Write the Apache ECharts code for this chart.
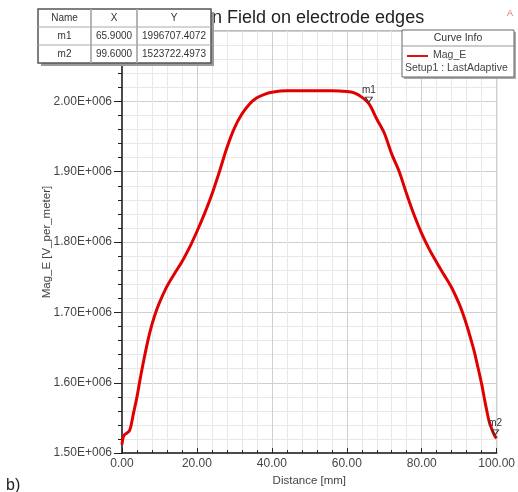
<!DOCTYPE html>
<html>
<head>
<meta charset="utf-8">
<script src="https://cdn.jsdelivr.net/npm/echarts@6/dist/echarts.min.js"></script>
<style>
  html, body { margin: 0; padding: 0; background: #fff; }
  #main { width: 518px; height: 492px; }
</style>
</head>
<body>
<div id="main"></div>
<script>
// distance along the edge [mm]
const distance = [0, 0.5, 2, 3, 4, 5, 6, 7, 8, 9, 10, 12, 14, 16, 18, 20, 22, 24, 26, 28,
  30, 32, 34, 36, 38, 40, 44, 48, 52, 56, 60, 62, 64, 65.9, 68, 70, 72, 74, 76, 78,
  80, 82, 84, 86, 88, 90, 91, 92, 93, 94, 95, 96, 97, 98, 99, 99.6, 100];
// Mag_E [V_per_meter]
const magE = [1512000, 1525000, 1532000, 1555000, 1580000, 1610000, 1637000, 1662000, 1683000, 1700000,
  1714000, 1737000, 1755000, 1772000, 1792000, 1815000, 1840000, 1868000, 1900000, 1934000,
  1962000, 1982000, 1996000, 2005000, 2010000, 2013000, 2015000, 2015000, 2015000, 2015000,
  2014000, 2012000, 2006000, 1996707, 1975000, 1955000, 1925000, 1900000, 1868000, 1838000,
  1812000, 1790000, 1771000, 1753000, 1735000, 1712000, 1698000, 1682000, 1664000, 1645000,
  1622000, 1598000, 1570000, 1545000, 1530000, 1523722, 1521000];

const markerNames = ['m1', 'm2'];
const markerX = ['65.9000', '99.6000'];
const markerY = ['1996707.4072', '1523722.4973'];

const seriesName = 'Mag_E';
const setupName = 'Setup1 : LastAdaptive';
const titleText = 'n Field on electrode edges';

const font = '"Liberation Sans", Arial, sans-serif';

function fmtE(v) {
  return (v / 1e6).toFixed(2) + 'E+006';
}

// marker table (top left)
const tblX = 38, tblY = 9, colW = [53, 46, 74], rowH = 18;
const tblRows = [['Name', 'X', 'Y']].concat(markerNames.map((n, i) => [n, markerX[i], markerY[i]]));
const tblW = colW.reduce((a, b) => a + b, 0);
const tblH = rowH * tblRows.length;
const overlay = [
  { type: 'rect', shape: { x: tblX + 3, y: tblY + 3, width: tblW, height: tblH }, style: { fill: '#9a9a9a' } },
  { type: 'rect', shape: { x: tblX, y: tblY, width: tblW, height: tblH }, style: { fill: '#fff', stroke: '#555', lineWidth: 1.5 } }
];
tblRows.forEach((row, r) => {
  let cx = tblX;
  row.forEach((cell, c) => {
    overlay.push({
      type: 'text',
      style: { x: cx + colW[c] / 2, y: tblY + r * rowH + rowH / 2, text: cell, align: 'center', verticalAlign: 'middle',
        fontSize: 10, fontFamily: font, fill: '#333' }
    });
    if (c > 0) {
      overlay.push({ type: 'line', shape: { x1: cx, y1: tblY, x2: cx, y2: tblY + tblH }, style: { stroke: '#aaa', lineWidth: 1 } });
    }
    cx += colW[c];
  });
  if (r > 0) {
    overlay.push({ type: 'line', shape: { x1: tblX, y1: tblY + r * rowH, x2: tblX + tblW, y2: tblY + r * rowH }, style: { stroke: '#aaa', lineWidth: 1 } });
  }
});

// curve info box (top right)
const lgX = 402, lgY = 30, lgW = 112, lgH = 47;
overlay.push(
  { type: 'rect', shape: { x: lgX + 2, y: lgY + 2, width: lgW, height: lgH }, style: { fill: '#aaa' } },
  { type: 'rect', shape: { x: lgX, y: lgY, width: lgW, height: lgH }, style: { fill: '#fff', stroke: '#666', lineWidth: 1 } },
  { type: 'line', shape: { x1: lgX, y1: lgY + 16, x2: lgX + lgW, y2: lgY + 16 }, style: { stroke: '#999', lineWidth: 1 } },
  { type: 'text', style: { x: lgX + lgW / 2, y: lgY + 8, text: 'Curve Info', align: 'center', verticalAlign: 'middle', fontSize: 10.5, fontFamily: font, fill: '#333' } },
  { type: 'line', shape: { x1: lgX + 5, y1: lgY + 26, x2: lgX + 26, y2: lgY + 26 }, style: { stroke: '#e01010', lineWidth: 2 } },
  { type: 'text', style: { x: lgX + 31, y: lgY + 25, text: seriesName, verticalAlign: 'middle', fontSize: 10.5, fontFamily: font, fill: '#444' } },
  { type: 'text', style: { x: lgX + 3, y: lgY + 38, text: setupName, verticalAlign: 'middle', fontSize: 10.5, fontFamily: font, fill: '#444' } }
);
// boxes go on their own canvas layer above the plot, in push order
overlay.forEach((el, i) => { el.id = 'ov' + i; el.zlevel = 2; el.z = 100 + i; });

const chart = echarts.init(document.getElementById('main'), null, { renderer: 'canvas' });

chart.setOption({
  backgroundColor: '#fff',
  animation: false,
  grid: { left: 122, right: 17, top: 31, bottom: 34, show: true, borderColor: '#777', borderWidth: 1 },
  xAxis: {
    type: 'value', min: 0, max: 100, interval: 20,
    name: 'Distance [mm]', nameLocation: 'middle', nameGap: 18,
    nameTextStyle: { fontSize: 11.5, fontFamily: font, color: '#444' },
    axisLine: { lineStyle: { color: '#222', width: 1.5 } },
    axisTick: { show: true, inside: true, length: 5, lineStyle: { color: '#222' } },
    minorTick: { show: true, splitNumber: 5, length: 3, lineStyle: { color: '#222' } },
    axisLabel: { formatter: v => v.toFixed(2), fontSize: 12, fontFamily: font, color: '#444', margin: 5 },
    splitLine: { show: true, lineStyle: { color: '#cfcfcf', width: 1 } },
    minorSplitLine: { show: true, lineStyle: { color: '#e8e8e8', width: 1 } }
  },
  yAxis: {
    type: 'value', min: 1500000, max: 2100000, interval: 100000,
    name: 'Mag_E [V_per_meter]', nameLocation: 'middle', nameGap: 69, nameMoveOverlap: false,
    nameTextStyle: { fontSize: 11.5, fontFamily: font, color: '#444' },
    axisLine: { show: true, lineStyle: { color: '#222', width: 1.5 } },
    axisTick: { show: true, length: 8, lineStyle: { color: '#222' } },
    minorTick: { show: true, splitNumber: 5, length: 4, lineStyle: { color: '#222' } },
    axisLabel: { formatter: fmtE, fontSize: 12, fontFamily: font, color: '#444', margin: 10 },
    splitLine: { show: true, lineStyle: { color: '#cfcfcf', width: 1 } },
    minorSplitLine: { show: true, lineStyle: { color: '#e8e8e8', width: 1 } }
  },
  series: [{
    name: seriesName,
    type: 'line',
    data: distance.map((d, i) => [d, magE[i]]),
    showSymbol: false,
    smooth: 0.3,
    lineStyle: { color: '#e00000', width: 3 },
    markPoint: {
      symbol: 'triangle',
      symbolRotate: 180,
      symbolSize: [7, 5],
      symbolOffset: [0, -4],
      itemStyle: { color: 'rgba(0,0,0,0)', borderColor: '#333', borderWidth: 1 },
      label: { show: true, position: 'top', distance: 1, formatter: '{b}', fontSize: 10, fontFamily: font, color: '#333' },
      data: markerNames.map((n, i) => ({ name: n, coord: [parseFloat(markerX[i]), parseFloat(markerY[i])] }))
    }
  }],
  graphic: {
    elements: [
      { type: 'text', style: { x: 212, y: 18, text: titleText, verticalAlign: 'middle', fontSize: 18, fontFamily: font, fill: '#222' } },
      { type: 'text', style: { x: 510, y: 14, text: 'A', align: 'center', verticalAlign: 'middle', fontSize: 9, fontFamily: font, fill: '#e07070' } },
      { type: 'text', style: { x: 6, y: 494, text: 'b)', verticalAlign: 'bottom', fontSize: 16, fontFamily: font, fill: '#222' } }
    ].concat(overlay)
  }
});
</script>
</body>
</html>
